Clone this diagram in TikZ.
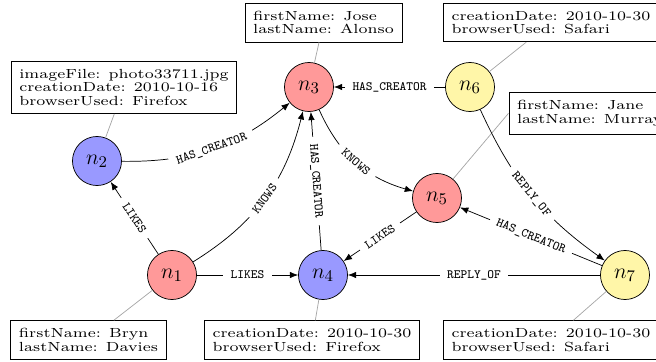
\documentclass[tikz,border=0pt]{standalone}
\usepackage{fontspec}
\newfontfamily\boxfont{Latin Modern Roman}[FakeStretch=1.2]
\usetikzlibrary{arrows.meta}
\definecolor{nred}{RGB}{255,153,153}
\definecolor{nblue}{RGB}{153,153,255}
\definecolor{nyel}{RGB}{255,246,168}
\tikzset{
  gnode/.style={circle, draw=black, minimum size=27.1pt, inner sep=0pt, font=\fontsize{13}{15}\selectfont},
  rnode/.style={gnode, fill=nred},
  bnode/.style={gnode, fill=nblue},
  ynode/.style={gnode, fill=nyel},
  propbox/.style={draw=black, rectangle, fill=white, align=left, inner xsep=4.5pt, inner ysep=4.4pt,
    font=\fontsize{7.3}{7.4}\boxfont},
  rel/.style={-{Latex[length=4.6pt,width=3.6pt]}, black},
  lab/.style={font=\ttfamily\scriptsize, fill=white, inner xsep=4pt, inner ysep=1.5pt, sloped, midway},
  attach/.style={draw=gray!70, line width=0.4pt}
}
\begin{document}
\begin{tikzpicture}[x=0.5525pt, y=-0.5525pt]
\useasboundingbox (0,0) rectangle (656,362);
% nodes
\node[rnode] (n1) at (172,275) {$n_1$};
\node[bnode] (n2) at (97,161) {$n_2$};
\node[rnode] (n3) at (309,87) {$n_3$};
\node[bnode] (n4) at (323,275) {$n_4$};
\node[rnode] (n5) at (437,198) {$n_5$};
\node[ynode] (n6) at (470,87) {$n_6$};
\node[ynode] (n7) at (625,275) {$n_7$};
% property boxes
\node[propbox] (b3) at (323.5,22.5) {firstName: Jose\\lastName: Alonso};
\node[propbox, anchor=west] (b6) at (443,22.5) {creationDate: 2010-10-30\\browserUsed: Safari};
\node[propbox] (b2) at (124,87.5) {imageFile: photo33711.jpg\\creationDate: 2010-10-16\\browserUsed: Firefox};
\node[propbox, anchor=west] (bj) at (508.5,113.3) {firstName: Jane\\lastName: Murray};
\node[propbox] (b1) at (88.5,340) {firstName: Bryn\\lastName: Davies};
\node[propbox] (b4) at (312,340) {creationDate: 2010-10-30\\browserUsed: Firefox};
\node[propbox, anchor=west] (b7) at (443,340) {creationDate: 2010-10-30\\browserUsed: Safari};
% attachments
\draw[attach] (n3) -- (b3);
\draw[attach] (n6) -- (b6);
\draw[attach] (n2) -- (b2);
\draw[attach] (n5) -- (bj.west);
\draw[attach] (n1) -- (b1);
\draw[attach] (n4) -- (b4);
\draw[attach] (n7) -- (b7);
% relationships
\draw[rel] (n1) -- node[lab]{LIKES} (n2);
\draw[rel] (n1) to[bend right=22] node[lab]{KNOWS} (n3);
\draw[rel] (n1) -- node[lab]{LIKES} (n4);
\draw[rel] (n2) to[bend right=20] node[lab]{HAS\_CREATOR} (n3);
\draw[rel] (n4) -- node[lab]{HAS\_CREATOR} (n3);
\draw[rel] (n3) to[bend right=25] node[lab]{KNOWS} (n5);
\draw[rel] (n6) -- node[lab]{HAS\_CREATOR} (n3);
\draw[rel] (n6) to[bend right=15] node[lab]{REPLY\_OF} (n7);
\draw[rel] (n7) -- node[lab]{HAS\_CREATOR} (n5);
\draw[rel] (n5) -- node[lab]{LIKES} (n4);
\draw[rel] (n7) -- node[lab]{REPLY\_OF} (n4);
\end{tikzpicture}
\end{document}
